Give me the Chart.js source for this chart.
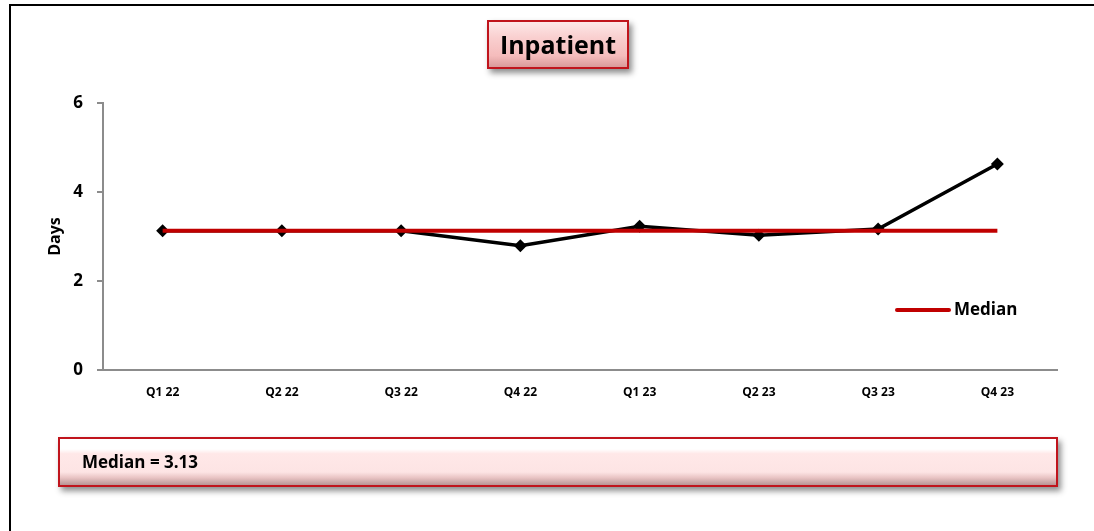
<!DOCTYPE html>
<html>
<head>
<meta charset="utf-8">
<script src="https://cdn.jsdelivr.net/npm/chart.js@4.4.1/dist/chart.umd.min.js"></script>
<style>
  html, body { margin: 0; padding: 0; background: #fff; }
  body { width: 1094px; height: 531px; position: relative; overflow: hidden;
         font-family: 'Open Sans', 'Liberation Sans', sans-serif; }
  #frame { position: absolute; left: 9px; top: 4px; width: 1200px; height: 600px;
           border-left: 2px solid #000; border-top: 2px solid #000; }
  #wrap { position: absolute; left: 0; top: 0; width: 1094px; height: 531px; }
  .box {
    position: absolute; box-sizing: border-box;
    border: 2px solid #c0141c;
    box-shadow: 3px 4px 6px rgba(0,0,0,0.45);
    font-weight: bold; color: #000;
  }
  #title { left: 487px; top: 20px; width: 142px; height: 49px;
           background: linear-gradient(#fde8e8 0%, #f9cfcf 35%, #f5bcbc 75%, #d99a9a 100%);
           font-size: 25px; line-height: 45px; text-align: center; }
  #note { left: 58px; top: 437px; width: 1000px; height: 50px;
          background: linear-gradient(#fff 0%, #fff 22%, #ffe8e8 32%, #fde4e4 72%, #e9c4c4 84%, #b89494 100%);
          font-size: 17px; line-height: 46px; padding-left: 22px; }
  #legend { position: absolute; left: 895px; top: 297px; font-weight: bold; font-size: 17px; }
  #legend span.ln { display: inline-block; width: 56px; height: 4px; background: #c00000;
                    vertical-align: middle; margin-right: 3px; border-radius: 2px; }
</style>
</head>
<body>
<div id="frame"></div>
<div id="wrap"><canvas id="chart" width="1094" height="531"></canvas></div>
<div id="title" class="box">Inpatient</div>
<div id="legend"><span class="ln"></span>Median</div>
<div id="note" class="box">Median = 3.13</div>
<script>
(function () {
  'use strict';

  const QUARTERS = ['Q1 22', 'Q2 22', 'Q3 22', 'Q4 22', 'Q1 23', 'Q2 23', 'Q3 23', 'Q4 23'];
  const DAYS     = [3.13, 3.13, 3.13, 2.79, 3.23, 3.03, 3.17, 4.63];
  const MEDIAN   = [3.13, 3.13, 3.13, 3.13, 3.13, 3.13, 3.13, 3.13];
  const Y_TICKS  = [0, 2, 4, 6];

  const AXIS = '#8c8c8c';
  const RED  = '#c00000';
  const FONT = "'Open Sans', 'Liberation Sans', sans-serif";

  new Chart(document.getElementById('chart'), {
    type: 'line',
    data: {
      labels: QUARTERS,
      datasets: [
        { label: 'Median', data: MEDIAN, borderColor: RED, borderWidth: 4,
          pointRadius: 0, tension: 0, order: 1 },
        { label: 'Days', data: DAYS, borderColor: '#000', backgroundColor: '#000',
          borderWidth: 3.5, pointStyle: 'rectRot', pointRadius: 4, tension: 0, order: 2 },
      ],
    },
    options: {
      responsive: false,
      animation: false,
      layout: { padding: { left: 42, right: 37, top: 103, bottom: 121 } },
      plugins: { legend: { display: false }, tooltip: { enabled: false } },
      scales: {
        x: {
          offset: true,
          grid: { display: false },
          border: { display: true, color: AXIS, width: 2 },
          ticks: { color: '#000', padding: 7, font: { family: FONT, size: 12, weight: 'bold' } },
          afterFit: (s) => { s.height = 40; },
        },
        y: {
          min: 0, max: 6,
          afterBuildTicks: (s) => { s.ticks = Y_TICKS.map((v) => ({ value: v })); },
          grid: { drawOnChartArea: false, drawTicks: true, tickLength: 6, color: AXIS, lineWidth: 2 },
          border: { display: true, color: AXIS, width: 2 },
          ticks: { color: '#000', padding: 14, font: { family: FONT, size: 17, weight: 'bold' } },
          title: { display: true, text: 'Days', color: '#000', padding: { top: 4, bottom: 0 },
                   font: { family: FONT, size: 16, weight: 'bold' } },
          afterFit: (s) => { s.width = 61; },
        },
      },
    },
  });
})();
</script>
</body>
</html>
